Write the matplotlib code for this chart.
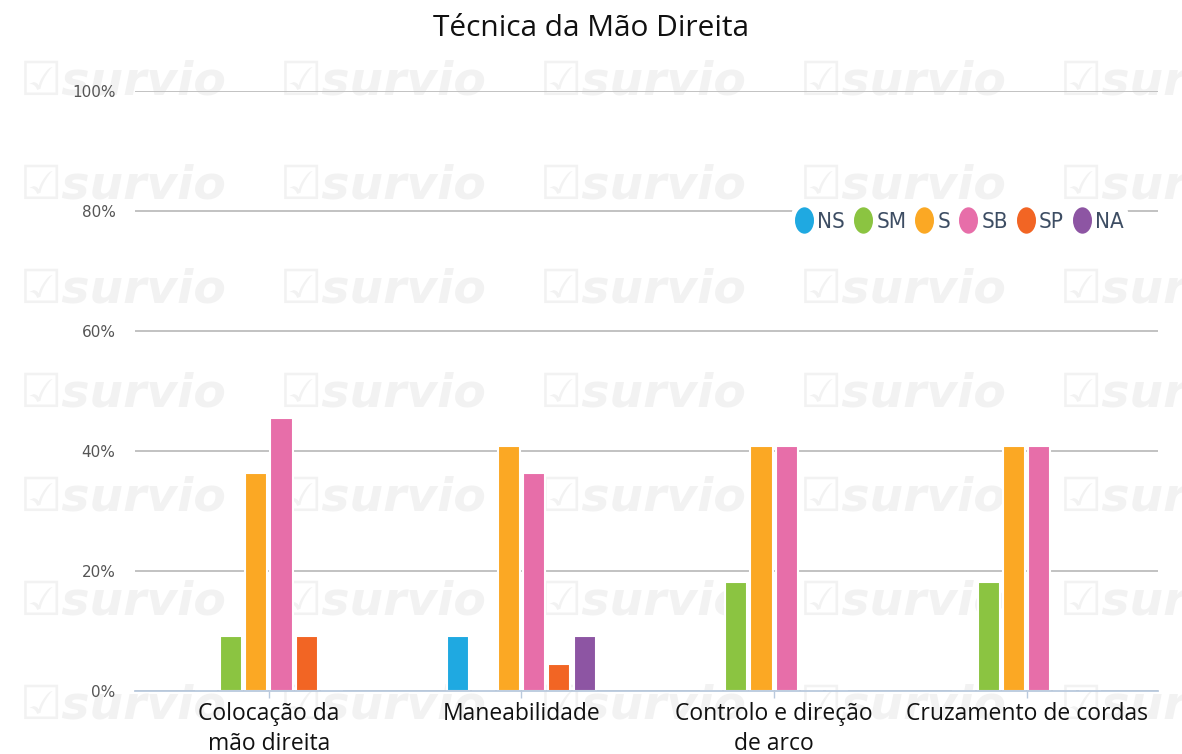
import matplotlib
matplotlib.use('Agg')
import numpy as np
import matplotlib.pyplot as plt
from matplotlib.lines import Line2D
from matplotlib.path import Path

# data (percent of answers)
categories = ["Colocação da\nmão direita", "Maneabilidade", "Controlo e direção\nde arco", "Cruzamento de cordas"]
series = ["NS", "SM", "S", "SB", "SP", "NA"]
ns_vals = [0, 9.09, 0, 0]
sm_vals = [9.09, 0, 18.18, 18.18]
s_vals = [36.36, 40.91, 40.91, 40.91]
sb_vals = [45.45, 36.36, 40.91, 40.91]
sp_vals = [9.09, 4.55, 0, 0]
na_vals = [0, 9.09, 0, 0]
yticks = [0, 20, 40, 60, 80, 100]

values = [ns_vals, sm_vals, s_vals, sb_vals, sp_vals, na_vals]
colors = ['#1fa9e1', '#8bc441', '#fba824', '#e76ea9', '#f26524', '#8d55a3']

W, H = 1182, 754
fig = plt.figure(figsize=(W / 100, H / 100), dpi=100)
ax = fig.add_axes([135 / W, 1 - 691 / H, (1158 - 135) / W, (691 - 91) / H])
ax.set_facecolor('none')

# faint watermark behind everything
for row in range(7):
    for col in range(5):
        fig.text((20 + col * 260) / W, 1 - (82 + row * 104) / H, "☑survio",
                 fontsize=34, fontweight='bold', style='italic', color='#f2f2f2',
                 va='center', ha='left', zorder=-10)

x = np.arange(len(categories))
slot = 0.1
for i, (name, vals) in enumerate(zip(series, values)):
    ax.bar(x + (i - 2.5) * slot, vals, 0.088, color=colors[i],
           edgecolor='white', linewidth=1.5, zorder=3)

ax.set_ylim(0, 100)
ax.set_xlim(-0.53, 3.52)
ax.set_yticks(yticks)
ax.set_yticklabels([f"{t}%" for t in yticks], fontsize=11, color='#555555')
ax.grid(axis='y', color='#bdbdbd', linewidth=1.3, zorder=0)
ax.set_axisbelow(True)
ax.tick_params(axis='y', length=0, pad=14)
ax.set_xticks(x)
ax.set_xticklabels(categories, fontsize=16.5, family='Open Sans', color='#111111', linespacing=1.3)
ax.tick_params(axis='x', length=5, color='#b9c9dd', width=1, pad=3)
for s in ['top', 'right', 'left']:
    ax.spines[s].set_visible(False)
ax.spines['bottom'].set_color('#b9c9dd')
ax.spines['bottom'].set_linewidth(1.3)
ax.spines['bottom'].set_zorder(5)

fig.text(591 / W, 1 - 29 / H, "Técnica da Mão Direita", fontsize=21.5, family='Open Sans',
         ha='center', va='center', color='#111111')

# oval legend markers
circ = Path.unit_circle()
oval = Path(circ.vertices * np.array([0.72, 1.0]), circ.codes)
handles = [Line2D([], [], linestyle='none', marker=oval, markersize=19,
                  markerfacecolor=c, markeredgecolor='none') for c in colors]
leg = fig.legend(handles, series, loc='center', bbox_to_anchor=(960 / W, 1 - 222 / H),
                 ncol=6, frameon=True, facecolor='white', edgecolor='none', framealpha=1,
                 handlelength=0.7, handletextpad=0.25, columnspacing=0.45, borderpad=0.2,
                 prop={'size': 16, 'stretch': 'condensed'})
for t in leg.get_texts():
    t.set_color('#3d4d63')

plt.savefig('out.png', dpi=100)
